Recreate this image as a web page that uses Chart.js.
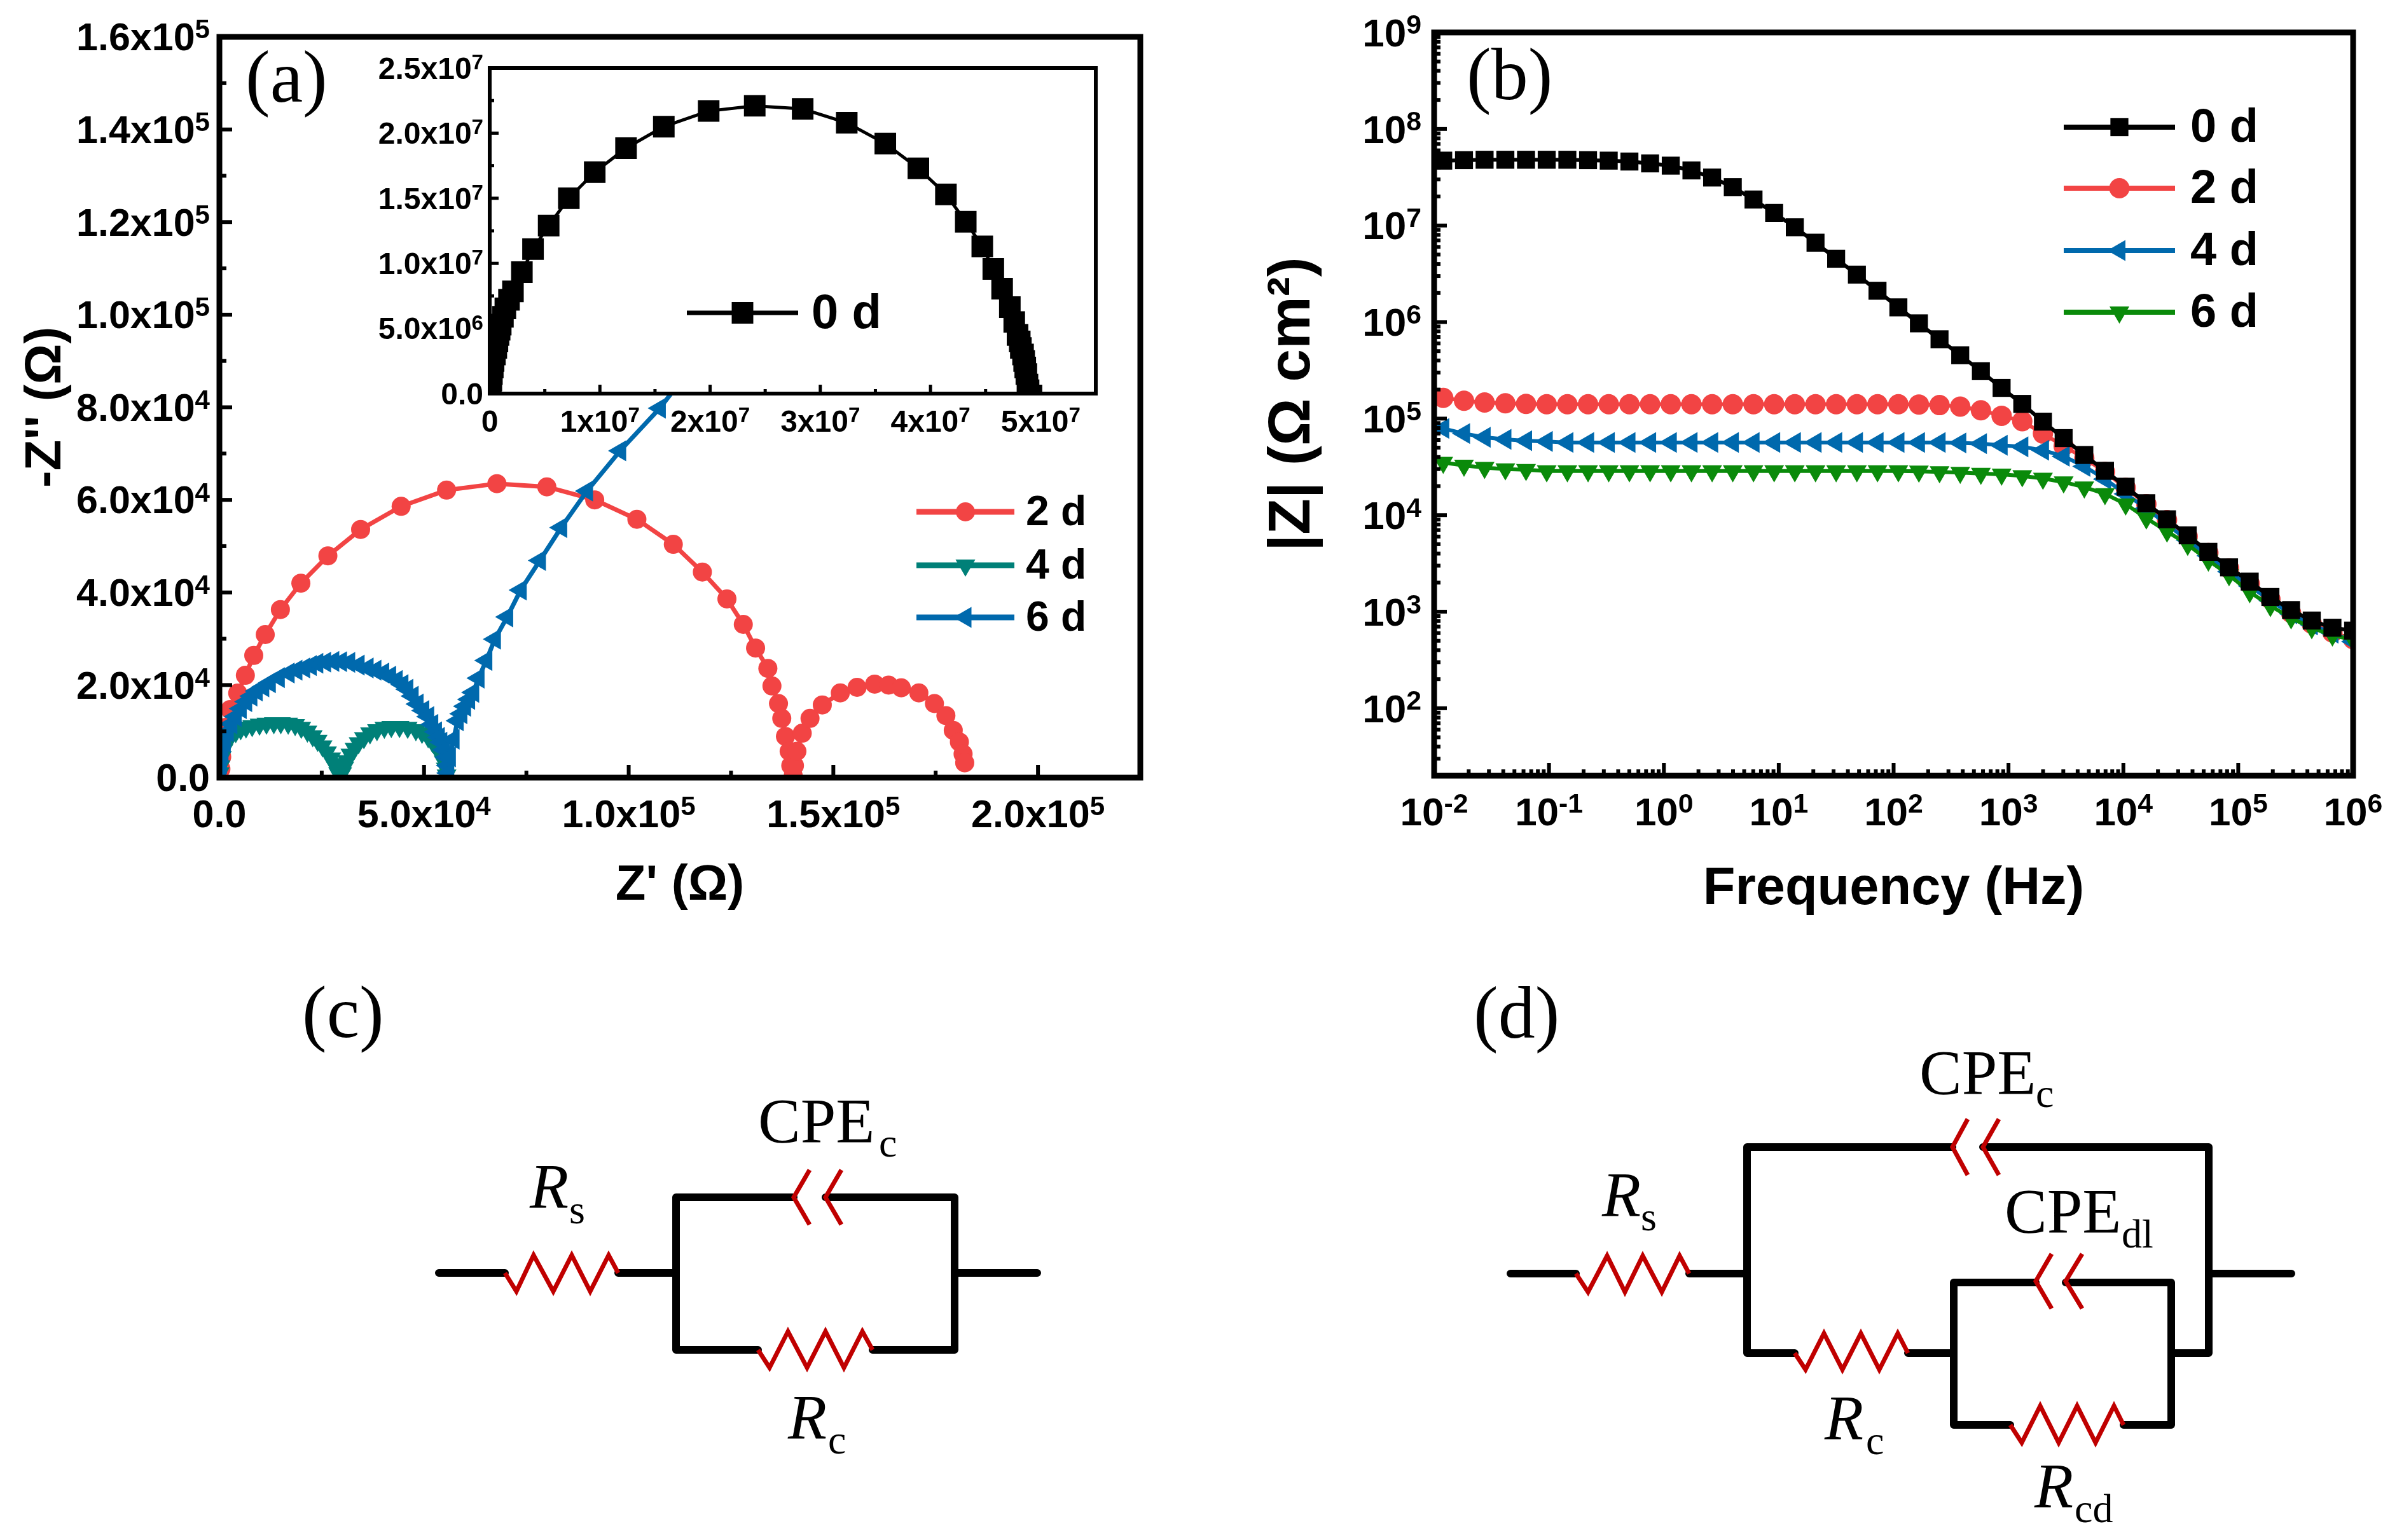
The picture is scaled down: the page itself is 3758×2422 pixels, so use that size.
<!DOCTYPE html>
<html>
<head>
<meta charset="utf-8">
<title>EIS Nyquist and Bode plots</title>
<script src="https://cdn.jsdelivr.net/npm/chart.js@4"></script>
<style>
  html, body { margin: 0; padding: 0; background: #fff; }
  #page { position: relative; width: 3758px; height: 2422px; overflow: hidden; }
  canvas, svg { position: absolute; }
  svg text { font-family: "Liberation Serif", serif; fill: #000; }
  .wire { fill: none; stroke: #000; stroke-width: 12; stroke-linecap: round; stroke-linejoin: round; }
  .part { fill: none; stroke: #c00000; stroke-width: 7; stroke-linejoin: miter; }
</style>
</head>
<body>
<div id="page">
  <canvas id="nyquist" width="1880" height="1460" style="left:0;top:0"></canvas>
  <canvas id="inset" width="1240" height="680" style="left:540px;top:50px"></canvas>
  <canvas id="bode" width="1878" height="1460" style="left:1880px;top:0"></canvas>

  <svg width="3758" height="2422" style="left:0;top:0">
    <text x="386" y="160" font-size="116">(a)</text>
    <text x="2306" y="156" font-size="116">(b)</text>
    <text x="475" y="1631" font-size="116">(c)</text>
    <text x="2317" y="1632" font-size="116">(d)</text>

    <!-- circuit c -->
    <path class="wire" d="M690 2002H794M972 2002H1063M1063 1883V2123M1063 1883H1248M1298 1883H1501V2123H1372M1192 2123H1063M1501 2002H1631"/>
    <polyline class="part" points="794,2002 812,2031 839,1974 870,2031 899,1974 928,2031 957,1974 972,2002"/>
    <polyline class="part" points="1192,2123 1210,2151 1239,2094 1269,2151 1298,2094 1327,2151 1356,2094 1372,2123"/>
    <polyline class="part" points="1273,1840 1248,1883 1273,1926"/>
    <polyline class="part" points="1323,1840 1298,1883 1323,1926"/>
    <text x="1192" y="1796" font-size="100">CPE<tspan x="1382" y="1819" font-size="64">c</tspan></text>
    <text x="833" y="1899" font-size="100" font-style="italic">R<tspan x="895" y="1924" font-size="64" font-style="normal">s</tspan></text>
    <text x="1239" y="2262" font-size="100" font-style="italic">R<tspan x="1302" y="2286" font-size="64" font-style="normal">c</tspan></text>

    <!-- circuit d -->
    <path class="wire" d="M2375 2003H2478M2656 2003H2747M2747 1804V2128M2747 1804H3070M3118 1804H3473V2128H3414M2747 2128H2822M3000 2128H3072M3072 2017V2241M3072 2017H3201M3248 2017H3414V2241H3339M3161 2241H3072M3478 2003H3603"/>
    <polyline class="part" points="2478,2003 2497,2032 2527,1975 2555,2032 2583,1975 2613,2032 2641,1975 2656,2003"/>
    <polyline class="part" points="2822,2128 2839,2154 2868,2097 2897,2154 2926,2097 2955,2154 2984,2097 3000,2128"/>
    <polyline class="part" points="3161,2241 3179,2269 3208,2211 3237,2269 3266,2211 3295,2269 3324,2211 3339,2241"/>
    <polyline class="part" points="3094,1760 3070,1804 3094,1848"/>
    <polyline class="part" points="3143,1760 3118,1804 3143,1848"/>
    <polyline class="part" points="3226,1972 3201,2015 3226,2058"/>
    <polyline class="part" points="3274,1972 3248,2015 3274,2058"/>
    <text x="3018" y="1720" font-size="100">CPE<tspan x="3201" y="1741" font-size="64">c</tspan></text>
    <text x="3152" y="1938" font-size="100">CPE<tspan x="3336" y="1962" font-size="64">dl</tspan></text>
    <text x="2519" y="1912" font-size="100" font-style="italic">R<tspan x="2580" y="1935" font-size="64" font-style="normal">s</tspan></text>
    <text x="2869" y="2263" font-size="100" font-style="italic">R<tspan x="2934" y="2287" font-size="64" font-style="normal">c</tspan></text>
    <text x="3199" y="2370" font-size="100" font-style="italic">R<tspan x="3262" y="2394" font-size="64" font-style="normal">cd</tspan></text>
  </svg>
</div>

<script>
// Panel (a) axis ticks, ^ marks the exponent
const nyqXTicks = [0, 5e4, 1e5, 1.5e5, 2e5];
const nyqXLabels = ['0.0', '5.0x10^4', '1.0x10^5', '1.5x10^5', '2.0x10^5'];
const nyqXMinor = [2.5e4, 7.5e4, 1.25e5, 1.75e5, 2.25e5];
const nyqYTicks = [0, 2e4, 4e4, 6e4, 8e4, 1e5, 1.2e5, 1.4e5, 1.6e5];
const nyqYLabels = ['0.0', '2.0x10^4', '4.0x10^4', '6.0x10^4', '8.0x10^4', '1.0x10^5', '1.2x10^5', '1.4x10^5', '1.6x10^5'];
const nyqYMinor = [1e4, 3e4, 5e4, 7e4, 9e4, 1.1e5, 1.3e5, 1.5e5];

// Panel (a) series
const nyq2dX = [370, 560, 930, 1490, 2600, 4470, 6340, 8390, 11200, 14900, 19900, 26500, 34500, 44400, 55500, 67800, 80000, 91700, 102000, 110900, 118000, 124000, 128000, 131000, 134000, 135000, 136600, 137400, 138300, 139200, 139600, 140200, 140500, 141100, 142400, 144300, 147300, 151700, 155800, 160100, 163500, 166600, 170900, 174700, 177500, 179300, 180800, 181700, 182100];
const nyq2dY = [1900, 4470, 7660, 10850, 14700, 18260, 22100, 26400, 30900, 36300, 42000, 47900, 53600, 58600, 62100, 63500, 62800, 60000, 55800, 50400, 44400, 38600, 33100, 28000, 23600, 19800, 16000, 12800, 8900, 5700, 2600, 400, 2600, 5700, 9600, 12800, 15700, 18300, 19500, 20200, 20000, 19400, 18300, 16000, 13400, 10200, 7700, 5100, 3200];
const nyq4dX = [100, 300, 600, 1000, 1500, 2200, 3000, 4000, 5200, 6500, 8000, 9800, 11500, 13300, 15000, 16800, 18500, 20000, 21500, 22800, 24000, 25200, 26300, 27300, 28000, 28600, 29000, 29500, 30000, 30500, 31200, 32000, 33000, 34000, 35300, 36800, 38500, 40300, 42000, 44000, 46000, 48000, 49500, 51000, 52000, 53000, 54000, 54800, 55300, 55500];
const nyq4dY = [1000, 2500, 4500, 6000, 7300, 8300, 9200, 9900, 10500, 10900, 11200, 11500, 11700, 11800, 11800, 11700, 11400, 10800, 10000, 9000, 8000, 6800, 5500, 4200, 3000, 2000, 1000, 300, 1000, 2200, 3600, 5000, 6300, 7500, 8600, 9600, 10300, 10800, 11000, 11000, 10800, 10300, 9700, 8800, 7800, 6500, 5000, 3500, 2000, 500];
const nyq6dX = [150, 350, 735, 1300, 2030, 2900, 3960, 5200, 6530, 7800, 9100, 10700, 12300, 14500, 16900, 18800, 20700, 22300, 23900, 25800, 27800, 29700, 31700, 34000, 36200, 38100, 40000, 41700, 43300, 44700, 45900, 47200, 48400, 49800, 51000, 52000, 52900, 53600, 54200, 54900, 55500, 55800, 55900, 56300, 57200, 58200, 59100, 60000, 61000, 62000, 63300, 65200, 67300, 70300, 73600, 78300, 83500, 89800, 97900, 107600, 113500];
const nyq6dY = [1200, 3000, 5370, 7600, 9900, 11600, 13200, 14900, 16400, 17600, 18700, 19600, 20500, 21600, 22600, 23200, 23700, 24200, 24700, 24950, 25100, 25050, 24900, 24300, 23700, 23200, 22600, 21900, 21000, 20100, 19100, 17600, 15900, 14500, 13200, 11500, 9900, 8700, 7650, 6000, 4400, 2600, 1000, 4500, 8300, 12300, 13800, 15400, 16900, 18400, 21500, 25300, 29900, 34700, 40500, 46900, 54000, 61900, 70600, 79800, 86500];

// Inset series, 0 d
const insetXTicks = [0, 1e7, 2e7, 3e7, 4e7, 5e7];
const insetXLabels = ['0', '1x10^7', '2x10^7', '3x10^7', '4x10^7', '5x10^7'];
const insetXMinor = [5e6, 1.5e7, 2.5e7, 3.5e7, 4.5e7];
const insetYTicks = [0, 5e6, 1e7, 1.5e7, 2e7, 2.5e7];
const insetYLabels = ['0.0', '5.0x10^6', '1.0x10^7', '1.5x10^7', '2.0x10^7', '2.5x10^7'];
const insetYMinor = [2.5e6, 7.5e6, 1.25e7, 1.75e7, 2.25e7];
const inset0dX = [3e4, 1e5, 1.5e5, 2e5, 2.8e5, 3.5e5, 4.7e5, 6e5, 7e5, 8e5, 9e5, 1e6, 1.2e6, 1.42e6, 1.75e6, 2.11e6, 2.92e6, 3.93e6, 5.35e6, 7.18e6, 9.53e6, 1.237e7, 1.58e7, 1.987e7, 2.405e7, 2.84e7, 3.24e7, 3.59e7, 3.89e7, 4.14e7, 4.32e7, 4.47e7, 4.57e7, 4.65e7, 4.72e7, 4.76e7, 4.79e7, 4.81e7, 4.82e7, 4.84e7, 4.85e7, 4.86e7, 4.87e7, 4.88e7, 4.89e7];
const inset0dY = [1e5, 5e5, 1e6, 1.5e6, 2e6, 2.5e6, 3e6, 3.5e6, 4e6, 4.5e6, 4.9e6, 5.3e6, 5.9e6, 6.54e6, 7.2e6, 7.85e6, 9.33e6, 1.11e7, 1.29e7, 1.5e7, 1.7e7, 1.885e7, 2.05e7, 2.17e7, 2.21e7, 2.186e7, 2.08e7, 1.92e7, 1.73e7, 1.53e7, 1.32e7, 1.13e7, 9.57e6, 8.06e6, 6.64e6, 5.5e6, 4.5e6, 4e6, 3.5e6, 3e6, 2.5e6, 2e6, 1.5e6, 7e5, 2.6e5];

// Panel (b) axis ticks
const bodeXTicks = [1e-2, 1e-1, 1, 1e1, 1e2, 1e3, 1e4, 1e5, 1e6];
const bodeXLabels = ['10^-2', '10^-1', '10^0', '10^1', '10^2', '10^3', '10^4', '10^5', '10^6'];
const bodeYTicks = [1e2, 1e3, 1e4, 1e5, 1e6, 1e7, 1e8, 1e9];
const bodeYLabels = ['10^2', '10^3', '10^4', '10^5', '10^6', '10^7', '10^8', '10^9'];

// Panel (b) series
const bodeFreq = [0.012, 0.0182, 0.0275, 0.0417, 0.0631, 0.0955, 0.1445, 0.2188, 0.3311, 0.5012, 0.7586, 1.148, 1.738, 2.63, 3.98, 6.03, 9.12, 13.8, 20.9, 31.6, 47.9, 72.4, 110, 166, 251, 380, 575, 871, 1318, 1995, 3020, 4571, 6918, 10471, 15849, 23988, 36308, 54954, 83176, 125893, 190546, 288403, 436516, 660693, 1000000];
const bode0d = [4.7e7, 4.75e7, 4.8e7, 4.8e7, 4.8e7, 4.8e7, 4.8e7, 4.75e7, 4.7e7, 4.6e7, 4.4e7, 4.17e7, 3.72e7, 3.14e7, 2.5e7, 1.86e7, 1.35e7, 9.6e6, 6.64e6, 4.53e6, 3.1e6, 2.11e6, 1.42e6, 9.7e5, 6.64e5, 4.53e5, 3.1e5, 2.08e5, 1.42e5, 9.3e4, 6.28e4, 4.2e4, 2.88e4, 1.97e4, 1.33e4, 9060, 6180, 4170, 2880, 2050, 1420, 1040, 810, 682, 637];
const bode2d = [1.64e5, 1.53e5, 1.47e5, 1.44e5, 1.42e5, 1.41e5, 1.41e5, 1.41e5, 1.41e5, 1.41e5, 1.41e5, 1.41e5, 1.41e5, 1.41e5, 1.41e5, 1.41e5, 1.41e5, 1.41e5, 1.41e5, 1.41e5, 1.41e5, 1.41e5, 1.41e5, 1.4e5, 1.38e5, 1.33e5, 1.22e5, 1.07e5, 9.4e4, 7e4, 5.2e4, 3.9e4, 2.8e4, 1.92e4, 1.3e4, 8900, 6000, 4050, 2800, 1950, 1350, 970, 750, 610, 520];
const bode4d = [7.9e4, 7e4, 6.4e4, 6.1e4, 5.9e4, 5.8e4, 5.66e4, 5.66e4, 5.66e4, 5.66e4, 5.66e4, 5.66e4, 5.66e4, 5.66e4, 5.66e4, 5.66e4, 5.66e4, 5.66e4, 5.66e4, 5.66e4, 5.66e4, 5.66e4, 5.66e4, 5.66e4, 5.66e4, 5.6e4, 5.5e4, 5.3e4, 5.1e4, 4.7e4, 4.07e4, 3.2e4, 2.36e4, 1.66e4, 1.17e4, 8000, 5500, 3800, 2600, 1850, 1300, 950, 730, 600, 490];
const bode6d = [3.5e4, 3.27e4, 3.1e4, 3e4, 2.95e4, 2.87e4, 2.87e4, 2.87e4, 2.87e4, 2.87e4, 2.87e4, 2.87e4, 2.87e4, 2.87e4, 2.87e4, 2.87e4, 2.87e4, 2.87e4, 2.87e4, 2.87e4, 2.87e4, 2.87e4, 2.87e4, 2.84e4, 2.8e4, 2.76e4, 2.7e4, 2.65e4, 2.55e4, 2.4e4, 2.2e4, 1.95e4, 1.66e4, 1.3e4, 9300, 6800, 4950, 3400, 2400, 1600, 1150, 860, 680, 570, 510];

const BLACK = '#000000', RED = '#f24444', TEAL = '#008078', BLUE = '#0069ad', GREEN = '#0a8a0a';
const SANS = '"Liberation Sans", Arial, sans-serif';

Chart.defaults.font.family = SANS;
Chart.defaults.font.weight = 'bold';
Chart.defaults.color = '#000';

function toPoints(xs, ys) {
  return xs.map((x, i) => ({ x: x, y: ys[i] }));
}

function series(label, xs, ys, color, style, radius, rotation, order, lineWidth) {
  return {
    label: label,
    data: toPoints(xs, ys),
    showLine: true,
    borderColor: color,
    borderWidth: lineWidth,
    backgroundColor: color,
    pointBackgroundColor: color,
    pointBorderColor: color,
    pointBorderWidth: 0,
    pointStyle: style,
    pointRadius: radius,
    pointRotation: rotation,
    order: order
  };
}

// tick label with a raised exponent: "1.6x10^5"
function drawTickLabel(ctx, text, x, y, align, size) {
  const parts = text.split('^');
  const supSize = size * 0.69;
  ctx.font = 'bold ' + size + 'px ' + SANS;
  const w1 = ctx.measureText(parts[0]).width;
  ctx.font = 'bold ' + supSize + 'px ' + SANS;
  const w2 = parts[1] ? ctx.measureText(parts[1]).width : 0;
  const start = align === 'right' ? x - w1 - w2 : x - (w1 + w2) / 2;
  ctx.font = 'bold ' + size + 'px ' + SANS;
  ctx.fillText(parts[0], start, y);
  if (parts[1]) {
    ctx.font = 'bold ' + supSize + 'px ' + SANS;
    ctx.fillText(parts[1], start + w1, y - size * 0.31);
  }
}

// frame, inward ticks, tick labels and the line + marker legend
const framePlugin = {
  id: 'frame',
  beforeDatasetsDraw(chart, args, opts) {
    if (opts.fill) {
      const a = chart.chartArea;
      chart.ctx.fillStyle = opts.fill;
      chart.ctx.fillRect(a.left, a.top, a.width, a.height);
    }
  },
  afterDatasetsDraw(chart, args, opts) {
    const { ctx, chartArea: a, scales: { x, y } } = chart;
    ctx.save();
    ctx.strokeStyle = '#000';
    ctx.lineWidth = opts.tickWidth;
    const tickX = (v, len) => {
      const p = x.getPixelForValue(v);
      ctx.beginPath(); ctx.moveTo(p, a.bottom); ctx.lineTo(p, a.bottom - len); ctx.stroke();
    };
    const tickY = (v, len) => {
      const p = y.getPixelForValue(v);
      ctx.beginPath(); ctx.moveTo(a.left, p); ctx.lineTo(a.left + len, p); ctx.stroke();
    };
    opts.xMajor.forEach(v => tickX(v, opts.major));
    opts.xMinor.forEach(v => tickX(v, opts.minor));
    opts.yMajor.forEach(v => tickY(v, opts.major));
    opts.yMinor.forEach(v => tickY(v, opts.minor));
    ctx.lineWidth = opts.frameWidth;
    ctx.strokeRect(a.left, a.top, a.width, a.height);
    ctx.restore();
  },
  afterDraw(chart, args, opts) {
    const { ctx, chartArea: a, scales: { x, y } } = chart;
    const lg = opts.legend;
    ctx.save();
    ctx.fillStyle = '#000';
    ctx.textBaseline = 'alphabetic';
    x.ticks.forEach(t => {
      drawTickLabel(ctx, t.label, x.getPixelForValue(t.value), a.bottom + opts.xLabelGap + opts.labelSize * 0.35, 'center', opts.labelSize);
    });
    y.ticks.forEach(t => {
      drawTickLabel(ctx, t.label, a.left - opts.yLabelGap, y.getPixelForValue(t.value) + opts.labelSize * 0.35, 'right', opts.labelSize);
    });
    ctx.font = 'bold ' + lg.fontSize + 'px ' + SANS;
    ctx.textBaseline = 'middle';
    lg.items.forEach((it, i) => {
      const ds = chart.data.datasets[it];
      const yy = lg.ys[i];
      ctx.strokeStyle = ds.borderColor;
      ctx.fillStyle = ds.borderColor;
      ctx.lineWidth = ds.borderWidth + 2;
      ctx.beginPath(); ctx.moveTo(lg.x1, yy); ctx.lineTo(lg.x2, yy); ctx.stroke();
      Chart.helpers.drawPoint(ctx, { pointStyle: ds.pointStyle, radius: ds.pointRadius, rotation: ds.pointRotation, borderWidth: 0 }, (lg.x1 + lg.x2) / 2, yy);
      ctx.fillStyle = '#000';
      ctx.fillText(ds.label, lg.textX, yy + 3);
    });
    ctx.restore();
  }
};

function axis(type, min, max, tickValues, labels, fit, title) {
  return {
    type: type, min: min, max: max,
    grid: { display: false, drawTicks: false },
    border: { display: false },
    afterBuildTicks: s => { s.ticks = tickValues.map(v => ({ value: v })); },
    afterFit: fit,
    ticks: {
      display: false, autoSkip: false, maxRotation: 0,
      callback: (v, i) => labels[i]
    },
    title: title
  };
}

function baseOptions(layout, scales, frame) {
  return {
    responsive: false,
    animation: false,
    devicePixelRatio: 1,
    layout: { autoPadding: false, padding: layout },
    plugins: { legend: { display: false }, tooltip: { enabled: false }, frame: frame },
    scales: scales
  };
}

// Panel (a)
new Chart(document.getElementById('nyquist'), {
  type: 'scatter',
  plugins: [framePlugin],
  data: { datasets: [
    series('2 d', nyq2dX, nyq2dY, RED, 'circle', 15, 0, 3, 7),
    series('4 d', nyq4dX, nyq4dY, TEAL, 'triangle', 18, 180, 2, 7),
    series('6 d', nyq6dX, nyq6dY, BLUE, 'triangle', 19, -90, 1, 7)
  ] },
  options: baseOptions({ left: 0, right: 87, top: 58, bottom: 0 }, {
    x: axis('linear', 0, 2.25e5, nyqXTicks, nyqXLabels, s => { s.height = 237; },
      { display: true, text: "Z' (Ω)", font: { size: 78, weight: 'bold' }, padding: { top: 0, bottom: 20 } }),
    y: axis('linear', 0, 1.6e5, nyqYTicks, nyqYLabels, s => { s.width = 345; },
      { display: true, text: "-Z'' (Ω)", font: { size: 80, weight: 'bold' }, padding: { top: 25, bottom: 0 } })
  }, {
    tickWidth: 6, frameWidth: 9, major: 20, minor: 11,
    xMajor: nyqXTicks, xMinor: nyqXMinor, yMajor: nyqYTicks, yMinor: nyqYMinor,
    labelSize: 61, xLabelGap: 57, yLabelGap: 15,
    legend: { items: [0, 1, 2], ys: [805, 889, 971], x1: 1441, x2: 1595, textX: 1613, fontSize: 66 }
  })
});

// Inset of panel (a)
new Chart(document.getElementById('inset'), {
  type: 'scatter',
  plugins: [framePlugin],
  data: { datasets: [
    series('0 d', inset0dX, inset0dY, BLACK, 'rect', 24, 0, 1, 5)
  ] },
  options: baseOptions({ left: 0, right: 57, top: 57, bottom: 0 }, {
    x: axis('linear', 0, 5.5e7, insetXTicks, insetXLabels, s => { s.height = 111; }, { display: false }),
    y: axis('linear', 0, 2.5e7, insetYTicks, insetYLabels, s => { s.width = 230; }, { display: false })
  }, {
    fill: '#fff',
    tickWidth: 5, frameWidth: 6, major: 14, minor: 7,
    xMajor: insetXTicks, xMinor: insetXMinor, yMajor: insetYTicks, yMinor: insetYMinor,
    labelSize: 48, xLabelGap: 43, yLabelGap: 10,
    legend: { items: [0], ys: [442], x1: 540, x2: 715, textX: 736, fontSize: 76 }
  })
});

// Panel (b), minor ticks on the log axes
const bodeXMinor = [];
bodeXTicks.slice(0, -1).forEach(d => { for (let k = 2; k < 10; k++) bodeXMinor.push(d * k); });
const bodeYMinor = [20, 30, 40, 50, 60, 70, 80, 90];
bodeYTicks.slice(0, -1).forEach(d => { for (let k = 2; k < 10; k++) bodeYMinor.push(d * k); });

new Chart(document.getElementById('bode'), {
  type: 'scatter',
  plugins: [framePlugin],
  data: { datasets: [
    series('0 d', bodeFreq, bode0d, BLACK, 'rect', 20, 0, 1, 6),
    series('2 d', bodeFreq, bode2d, RED, 'circle', 16, 0, 4, 6),
    series('4 d', bodeFreq, bode4d, BLUE, 'triangle', 19, -90, 3, 6),
    series('6 d', bodeFreq, bode6d, GREEN, 'triangle', 18, 180, 2, 6)
  ] },
  options: baseOptions({ left: 0, right: 58, top: 51, bottom: 0 }, {
    x: axis('logarithmic', 0.01, 1e6, bodeXTicks, bodeXLabels, s => { s.height = 240; },
      { display: true, text: 'Frequency (Hz)', font: { size: 83, weight: 'bold' }, padding: { top: 0, bottom: 11 } }),
    y: axis('logarithmic', 20, 1e9, bodeYTicks, bodeYLabels, s => { s.width = 375; },
      { display: true, text: '|Z| (Ω cm²)', font: { size: 93, weight: 'bold' }, padding: { top: 98, bottom: 0 } })
  }, {
    tickWidth: 6, frameWidth: 9, major: 20, minor: 10,
    xMajor: bodeXTicks, xMinor: bodeXMinor, yMajor: bodeYTicks, yMinor: bodeYMinor,
    labelSize: 62, xLabelGap: 56, yLabelGap: 20,
    legend: { items: [0, 1, 2, 3], ys: [200, 296, 394, 491], x1: 1365, x2: 1540, textX: 1564, fontSize: 74 }
  })
});
</script>
</body>
</html>
